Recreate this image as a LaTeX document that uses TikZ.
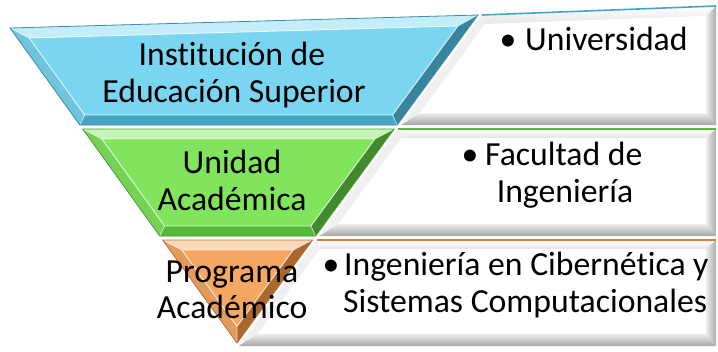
\documentclass[tikz,border=0pt]{standalone}
\usepackage{fontspec}
\setmainfont[Ligatures=NoCommon]{Carlito}
\definecolor{bFace}{RGB}{122,214,240}
\definecolor{bRim}{RGB}{70,165,195}
\definecolor{gFace}{RGB}{128,228,92}
\definecolor{gRim}{RGB}{86,185,58}
\definecolor{oFace}{RGB}{246,168,98}
\definecolor{oRim}{RGB}{212,128,58}
\newcommand\PyrL[1]{(10+0.72*((#1)-28))}
\newcommand\PyrR[1]{(478-0.735*((#1)-15))}
\newcommand\trapbev[6]{%
  \fill[#3] (#1TL) -- (#1TR) -- (#1iTR) -- (#1iTL) -- cycle;
  \fill[#4] (#1TL) -- (#1iTL) -- (#1iBL) -- (#1BL) -- cycle;
  \fill[#5] (#1TR) -- (#1BR) -- (#1iBR) -- (#1iTR) -- cycle;
  \fill[#6] (#1BL) -- (#1iBL) -- (#1iBR) -- (#1BR) -- cycle;
  \fill[#2] (#1iTL) -- (#1iTR) -- (#1iBR) -- (#1iBL) -- cycle;
  \draw[white,opacity=.75,line width=.9pt] (#1iTL) -- (#1iTR) -- (#1iBR) -- (#1iBL) -- cycle;
  \draw[white,opacity=.6,line width=.8pt] (#1TL) -- (#1iTL) (#1TR) -- (#1iTR) (#1BR) -- (#1iBR) (#1BL) -- (#1iBL);
}
\newcommand\boxbev[2]{%
  \shade[top color=white, bottom color=gray!20] (#1TL) -- (#1TR) -- (#1iTR) -- (#1iTL) -- cycle;
  \fill[gray!12] (#1TL) -- (#1iTL) -- (#1iBL) -- (#1BL) -- cycle;
  \shade[left color=gray!15, right color=gray!65] (#1TR) -- (#1BR) -- (#1iBR) -- (#1iTR) -- cycle;
  \shade[top color=gray!15, bottom color=gray!70] (#1BL) -- (#1iBL) -- (#1iBR) -- (#1BR) -- cycle;
  \fill[white] (#1iTL) -- (#1iTR) -- (#1iBR) -- (#1iBL) -- cycle;
  \draw[#2,line width=1.6pt] (#1TL) -- (#1TR);
}
\begin{document}
\begin{tikzpicture}[x=1pt,y=-1pt,
  lbl/.style={inner sep=0pt, anchor=base, font=\fontsize{33.7}{38}\selectfont},
  lblw/.style={lbl, anchor=base west}]
\useasboundingbox (0,0) rectangle (718,351);
\fill[white] (0,0) rectangle (718,351);

% ---------- white boxes (right side) ----------
% box 1
\coordinate (pTL) at ({\PyrR{15}+4},15);
\coordinate (pTR) at (716,6);
\coordinate (pBR) at (716,125);
\coordinate (pBL) at ({\PyrR{125}+4},125);
\coordinate (piTL) at ({\PyrR{24}+14},24);
\coordinate (piTR) at (706,16);
\coordinate (piBR) at (706,113);
\coordinate (piBL) at ({\PyrR{113}+14},113);
\boxbev{p}{bRim}
% box 2
\coordinate (qTL) at ({\PyrR{129}+4},129);
\coordinate (qTR) at (716,129);
\coordinate (qBR) at (716,236);
\coordinate (qBL) at ({\PyrR{236}+4},236);
\coordinate (qiTL) at ({\PyrR{138}+14},138);
\coordinate (qiTR) at (706,138);
\coordinate (qiBR) at (706,224);
\coordinate (qiBL) at ({\PyrR{224}+14},224);
\boxbev{q}{gRim}
% box 3
\coordinate (rTL) at ({\PyrR{240}+4},240);
\coordinate (rTR) at (716,240);
\coordinate (rBR) at (716,346);
\coordinate (rBL) at ({\PyrR{346}+4},346);
\coordinate (riTL) at ({\PyrR{249}+14},249);
\coordinate (riTR) at (706,249);
\coordinate (riBR) at (706,334);
\coordinate (riBL) at ({\PyrR{334}+14},334);
\boxbev{r}{oRim}

% ---------- level 1 (blue) ----------
\coordinate (aTL) at (10,28);
\coordinate (aTR) at (478,15);
\coordinate (aBR) at ({\PyrR{125}},125);
\coordinate (aBL) at ({\PyrL{125}},125);
\coordinate (aiTL) at ({\PyrL{38}+12},38);
\coordinate (aiTR) at ({\PyrR{26}-12},26);
\coordinate (aiBR) at ({\PyrR{115}-12},115);
\coordinate (aiBL) at ({\PyrL{115}+12},115);
\trapbev{a}{bFace}{bFace!45!white}{bFace!92!black}{bRim!80!black}{bRim}
\draw[bRim!85!black,line width=.8pt] (aTL) -- (aTR) -- (aBR) -- (aBL) -- cycle;

% ---------- level 2 (green) ----------
\coordinate (cTL) at ({\PyrL{129}},129);
\coordinate (cTR) at ({\PyrR{129}},129);
\coordinate (cBR) at ({\PyrR{236}},236);
\coordinate (cBL) at ({\PyrL{236}},236);
\coordinate (ciTL) at ({\PyrL{139}+12},139);
\coordinate (ciTR) at ({\PyrR{139}-12},139);
\coordinate (ciBR) at ({\PyrR{226}-12},226);
\coordinate (ciBL) at ({\PyrL{226}+12},226);
\trapbev{c}{gFace}{gFace!45!white}{gFace!92!black}{gRim!75!black}{gRim}
\draw[gRim!85!black,line width=.8pt] (cTL) -- (cTR) -- (cBR) -- (cBL) -- cycle;

% ---------- level 3 (orange) ----------
\coordinate (eTL) at ({\PyrL{240}},240);
\coordinate (eTR) at ({\PyrR{240}},240);
\coordinate (eA) at (237,343);
\coordinate (eiTL) at ({\PyrL{250}+12},250);
\coordinate (eiTR) at ({\PyrR{250}-12},250);
\coordinate (eiA) at (237,326.5);
\fill[oFace!45!white] (eTL) -- (eTR) -- (eiTR) -- (eiTL) -- cycle;
\fill[oFace!92!black] (eTL) -- (eiTL) -- (eiA) -- (eA) -- cycle;
\fill[oRim!80!black] (eTR) -- (eA) -- (eiA) -- (eiTR) -- cycle;
\fill[oFace] (eiTL) -- (eiTR) -- (eiA) -- cycle;
\draw[white,opacity=.75,line width=.9pt] (eiTL) -- (eiTR) -- (eiA) -- cycle;
\draw[white,opacity=.6,line width=.8pt] (eTL) -- (eiTL) (eTR) -- (eiTR) (eA) -- (eiA);
\draw[oRim!85!black,line width=.8pt] (eTL) -- (eTR) -- (eA) -- cycle;

% ---------- texts ----------
\node[lbl] (t1a) at (232,65) {Institución de};
\node[lbl] (t1b) at (234,102) {Educación Superior};
\node[lbl] (t2a) at (232,173) {Unidad};
\node[lbl] (t2b) at (232,210) {Académica};
\node[lbl] (t3a) at (232,282) {Programa};
\node[lbl] (t3b) at (232,318) {Académico};

\node[lbl] (b1) at (508,50) {•};
\node[lblw] (u1) at (525,50) {Universidad};
\node[lbl] (b2) at (470,165) {•};
\node[lblw] (u2a) at (485,165) {Facultad de};
\node[lbl] (u2b) at (565,202) {Ingeniería};
\node[lbl] (b3) at (331,275) {•};
\node[lblw] (u3a) at (344,275) {Ingeniería en Cibernética y};
\node[lblw] (u3b) at (343,312) {Sistemas Computacionales};
\end{tikzpicture}
\end{document}
